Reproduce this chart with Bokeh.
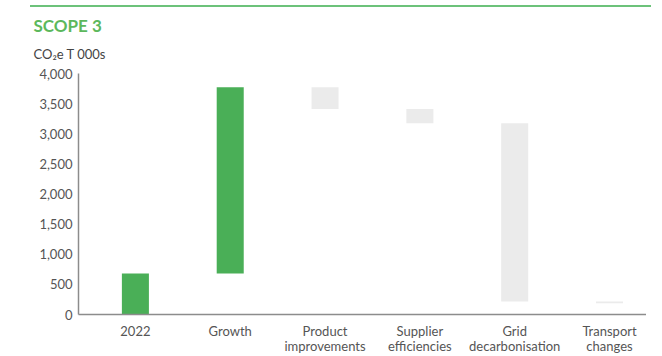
from bokeh.plotting import figure
from bokeh.models import (FixedTicker, NumeralTickFormatter, Title, Range1d,
                          ColumnDataSource, Div, Spacer)
from bokeh.layouts import column, row
from bokeh.embed import file_html
from bokeh.resources import INLINE

# ---- data ----
categories = ["2022", "Growth", "Product\nimprovements", "Supplier\nefficiencies",
              "Grid\ndecarbonisation", "Transport\nchanges"]
changes = [680, 3090, -360, -235, -2960, -30]
y_ticks = [0, 500, 1000, 1500, 2000, 2500, 3000, 3500, 4000]
title_text = "SCOPE 3"
unit_text = "CO₂e T 000s"

GREEN = "#4aaf57"
GREY = "#ebebeb"

xs = list(range(len(categories)))
bottoms, tops, colors = [], [], []
run = 0
for c in changes:
    start = run
    run = run + c
    bottoms.append(min(start, run))
    tops.append(max(start, run))
    colors.append(GREEN if c > 0 else GREY)

src = ColumnDataSource(dict(x=xs, bottom=bottoms, top=tops, color=colors))

p = figure(width=646, height=345, output_backend="svg", toolbar_location=None,
           x_range=Range1d(-0.6, 5.39), y_range=Range1d(0, 4000),
           min_border_left=78, min_border_right=0, min_border_top=59,
           min_border_bottom=43)
p.outline_line_color = None
p.grid.grid_line_color = None
p.background_fill_color = "white"
p.border_fill_color = "white"

p.vbar(x="x", bottom="bottom", top="top", width=0.285, fill_color="color",
       line_color=None, source=src)

# axes
p.yaxis.ticker = FixedTicker(ticks=y_ticks)
p.yaxis.formatter = NumeralTickFormatter(format="0,0")
p.xaxis.ticker = FixedTicker(ticks=xs)
p.xaxis.major_label_overrides = {i: lab for i, lab in zip(xs, categories)}
p.axis.axis_line_color = "#8c8c8c"
p.axis.axis_line_width = 1.5
p.axis.major_tick_in = 0
p.axis.major_tick_out = 0
p.axis.minor_tick_in = 0
p.axis.minor_tick_out = 0
p.axis.major_label_text_font = "Lato"
p.axis.major_label_text_font_size = "13px"
p.axis.major_label_text_color = "#555555"
p.yaxis.major_label_standoff = 6
p.xaxis.major_label_standoff = 8
p.xaxis.major_label_text_line_height = 0.96

# titles
sub = Title(text=unit_text, align="left", offset=-45, vertical_align="top",
            standoff=20, text_font="Lato", text_font_size="13px",
            text_font_style="normal", text_color="#444444")
p.add_layout(sub, "above")
main = Title(text=title_text, align="left", offset=-45, vertical_align="bottom",
             standoff=0, text_font="Lato", text_font_size="17px",
             text_font_style="bold", text_color="#5cb85c")
p.add_layout(main, "above")

# green rule at the top
rule = Div(width=621, height=2, styles={"background-color": "#6cc27a"})
layout = column(row(Spacer(width=25, height=2), rule), p)

open("out.html", "w").write(file_html(layout, INLINE))
